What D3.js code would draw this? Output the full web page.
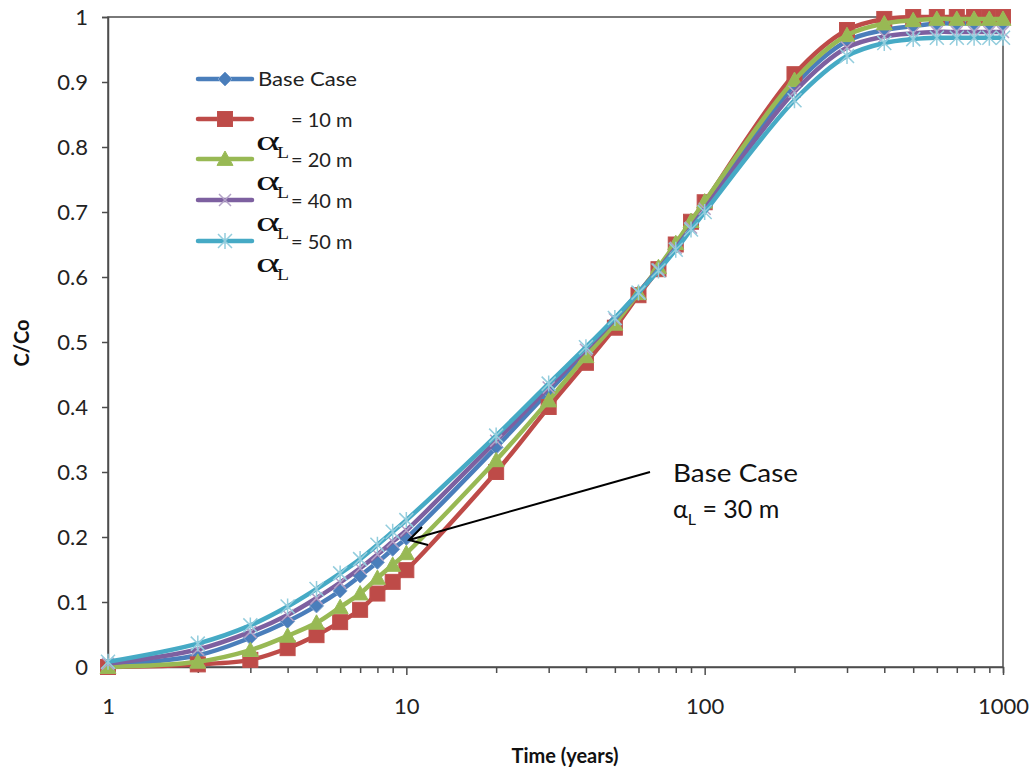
<!DOCTYPE html>
<html><head><meta charset="utf-8">
<script src="https://cdn.jsdelivr.net/npm/d3@7"></script>
<style>body{margin:0;background:#fff}svg{display:block}</style>
</head><body>
<svg id="chart" width="1031" height="774"></svg>
<script>
const times = [1,2,3,4,5,6,7,8,9,10,20,30,40,50,60,70,80,90,100,200,300,400,500,600,700,800,900,1000];
const baseCase = [0.003,0.018,0.045,0.07,0.094,0.117,0.14,0.161,0.181,0.198,0.338,0.424,0.484,0.532,0.575,0.613,0.648,0.68,0.71,0.895,0.963,0.98,0.986,0.99,0.99,0.99,0.99,0.99];
const alpha10 = [0,0.004,0.011,0.029,0.049,0.069,0.088,0.113,0.131,0.149,0.30,0.40,0.468,0.522,0.572,0.612,0.65,0.685,0.715,0.912,0.98,0.997,1,1,1,1,1,1];
const alpha20 = [0,0.008,0.026,0.048,0.068,0.092,0.113,0.137,0.157,0.175,0.318,0.41,0.478,0.528,0.575,0.615,0.652,0.686,0.716,0.903,0.972,0.99,0.995,0.997,0.997,0.997,0.997,0.997];
const alpha40 = [0.005,0.027,0.054,0.08,0.106,0.13,0.152,0.173,0.193,0.21,0.348,0.43,0.488,0.535,0.576,0.612,0.645,0.676,0.705,0.885,0.953,0.97,0.975,0.977,0.977,0.977,0.977,0.977];
const alpha50 = [0.008,0.036,0.064,0.093,0.12,0.144,0.166,0.188,0.208,0.226,0.356,0.436,0.492,0.537,0.576,0.61,0.642,0.673,0.70,0.872,0.94,0.96,0.966,0.968,0.968,0.968,0.968,0.968];
const legendLabels = ["Base Case","= 10 m","= 20 m","= 40 m","= 50 m"];
const xTickLabels = [1,10,100,1000];
const yTickValues = [0,0.1,0.2,0.3,0.4,0.5,0.6,0.7,0.8,0.9,1];

const seriesStyle = [
  {vals: baseCase, color:"#4A7EBB", mfill:"#4A7EBB", mstroke:"#7BA0CD", shape:"diamond"},
  {vals: alpha10, color:"#BE4B48", mfill:"#BE4B48", mstroke:"#C0504D", shape:"square"},
  {vals: alpha20, color:"#98B954", mfill:"#98B954", mstroke:"#9BBB59", shape:"triangle"},
  {vals: alpha40, color:"#7D60A0", mfill:"none", mstroke:"#B3A2C7", shape:"x"},
  {vals: alpha50, color:"#46AAC5", mfill:"none", mstroke:"#93CDDD", shape:"star"}
];

const svg = d3.select("#chart");
const x = d3.scaleLog().domain([1,1000]).range([108,1003]);
const y = d3.scaleLinear().domain([0,1]).range([667,17]);
const FONT = "Lato, 'Open Sans', sans-serif";

// frame
const axisColor = "#4d4d4d";
svg.append("rect").attr("x",x(1)).attr("y",y(1)).attr("width",x(1000)-x(1)).attr("height",y(0)-y(1))
  .attr("fill","none").attr("stroke",axisColor).attr("stroke-width",1.5);

// y axis
const yAxis = d3.axisLeft(y).tickValues(yTickValues).tickSize(6).tickFormat(d => d3.format("")(+d.toFixed(1)));
const gy = svg.append("g").attr("transform",`translate(${x(1)},0)`).call(yAxis);
gy.select(".domain").attr("stroke",axisColor).attr("stroke-width",1.5);
gy.selectAll(".tick line").attr("stroke",axisColor).attr("stroke-width",1.5);
gy.selectAll(".tick text").attr("x",-20).attr("font-family",FONT).attr("font-size",22).attr("fill","#222");

// x axis
const minor = [];
[1,10,100].forEach(dec => { for (let k=1;k<=10;k++) minor.push(dec*k); });
const xAxis = d3.axisBottom(x).tickValues(Array.from(new Set(minor))).tickSize(6)
  .tickFormat(d => xTickLabels.includes(d) ? String(d) : "");
const gx = svg.append("g").attr("transform",`translate(0,${y(0)})`).call(xAxis);
gx.select(".domain").attr("stroke",axisColor).attr("stroke-width",1.5);
gx.selectAll(".tick line").attr("stroke",axisColor).attr("stroke-width",1.5)
  .attr("y2", d => xTickLabels.includes(d) ? 8 : 6);
gx.selectAll(".tick text").attr("y",31).attr("font-family",FONT).attr("font-size",22).attr("fill","#222");

// axis titles
svg.append("text").attr("x",565).attr("y",763).attr("text-anchor","middle")
  .attr("font-family",FONT).attr("font-weight","bold").attr("font-size",20).attr("fill","#111").text("Time (years)");
svg.append("text").attr("transform","translate(29,343) rotate(-90)").attr("text-anchor","middle")
  .attr("font-family",FONT).attr("font-weight","bold").attr("font-size",20).attr("fill","#111").text("C/Co");

// marker drawing
function drawMarker(g, shape, cx, cy, fill, stroke) {
  if (shape==="diamond") {
    const s=7;
    g.append("path").attr("d",`M${cx},${cy-s}L${cx+s},${cy}L${cx},${cy+s}L${cx-s},${cy}Z`)
      .attr("fill",fill).attr("stroke",stroke).attr("stroke-width",1);
  } else if (shape==="square") {
    const s=7.5;
    g.append("rect").attr("x",cx-s).attr("y",cy-s).attr("width",2*s).attr("height",2*s)
      .attr("fill",fill).attr("stroke",stroke).attr("stroke-width",1);
  } else if (shape==="triangle") {
    const s=8;
    g.append("path").attr("d",`M${cx},${cy-s}L${cx+s},${cy+s*0.8}L${cx-s},${cy+s*0.8}Z`)
      .attr("fill",fill).attr("stroke",stroke).attr("stroke-width",1);
  } else if (shape==="x") {
    const s=6;
    g.append("path").attr("d",`M${cx-s},${cy-s}L${cx+s},${cy+s}M${cx-s},${cy+s}L${cx+s},${cy-s}`)
      .attr("fill","none").attr("stroke",stroke).attr("stroke-width",1.5);
  } else if (shape==="star") {
    const s=7;
    g.append("path").attr("d",`M${cx-s},${cy-s}L${cx+s},${cy+s}M${cx-s},${cy+s}L${cx+s},${cy-s}M${cx},${cy-s-1}L${cx},${cy+s+1}`)
      .attr("fill","none").attr("stroke",stroke).attr("stroke-width",1.5);
  }
}

const line = d3.line().x((d,i)=>x(times[i])).y(d=>y(d)).curve(d3.curveCatmullRom.alpha(0.5));
const plot = svg.append("g");
seriesStyle.forEach(s => {
  const g = plot.append("g");
  g.append("path").attr("d", line(s.vals)).attr("fill","none").attr("stroke",s.color)
    .attr("stroke-width",4.5).attr("stroke-linejoin","round").attr("stroke-linecap","round");
  s.vals.forEach((v,i) => drawMarker(g, s.shape, x(times[i]), y(v), s.mfill, s.mstroke));
});

// legend
const legendY = [79,119,159,200,241];
const leg = svg.append("g");
seriesStyle.forEach((s,i) => {
  const ly = legendY[i];
  leg.append("line").attr("x1",198).attr("x2",252).attr("y1",ly).attr("y2",ly)
    .attr("stroke",s.color).attr("stroke-width",4.5).attr("stroke-linecap","round");
  drawMarker(leg, s.shape, 225, ly, s.mfill, s.mstroke);
  if (i===0) {
    leg.append("text").attr("x",258).attr("y",ly+7).attr("font-family",FONT).attr("font-size",20)
      .attr("textLength",99).attr("lengthAdjust","spacingAndGlyphs").attr("fill","#222").text(legendLabels[i]);
  } else {
    leg.append("text").attr("x",291).attr("y",ly+8).attr("font-family",FONT).attr("font-size",20)
      .attr("fill","#222").text(legendLabels[i]);
    leg.append("text").attr("x",256).attr("y",ly+31).attr("font-family","'Liberation Serif', serif").attr("font-size",28)
      .attr("textLength",24).attr("lengthAdjust","spacingAndGlyphs").attr("fill","#111").text("α");
    leg.append("text").attr("x",277).attr("y",ly+39).attr("font-family","'Liberation Serif', serif").attr("font-size",17)
      .attr("textLength",12).attr("lengthAdjust","spacingAndGlyphs").attr("fill","#111").text("L");
  }
});

// annotation
svg.append("path").attr("d","M650,472L409,540").attr("stroke","#000").attr("stroke-width",2).attr("fill","none");
svg.append("path").attr("d","M422,527L409,540L428,545").attr("stroke","#000").attr("stroke-width",2).attr("fill","none");
svg.append("text").attr("x",673).attr("y",482).attr("font-family",FONT).attr("font-size",25)
  .attr("textLength",125).attr("lengthAdjust","spacingAndGlyphs").attr("fill","#111").text("Base Case");
const t2 = svg.append("text").attr("x",673).attr("y",518).attr("font-family",FONT).attr("font-size",25).attr("fill","#111");
t2.append("tspan").text("α");
t2.append("tspan").attr("font-size",16).attr("dy",7).text("L");
t2.append("tspan").attr("dy",-7).text(" = 30 m");
</script>
</body></html>
